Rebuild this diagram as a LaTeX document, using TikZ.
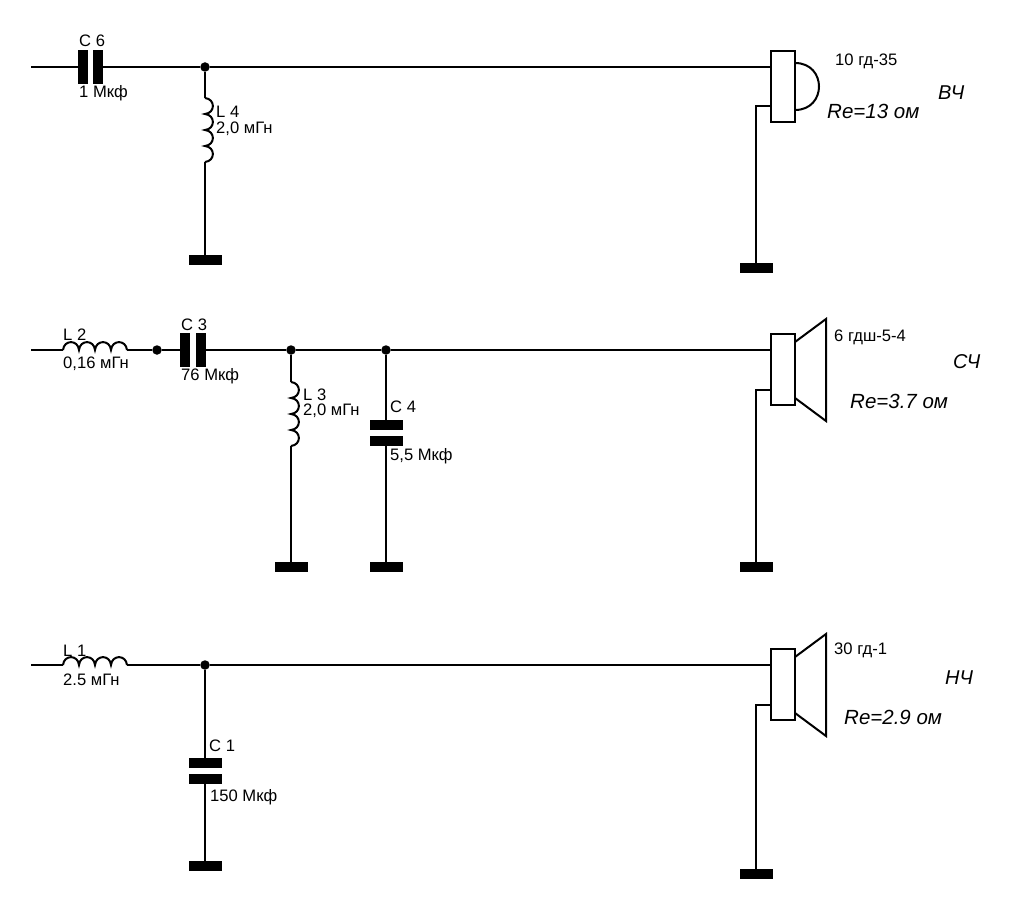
\documentclass[tikz,border=0pt]{standalone}
\usepackage{fontspec}
\setmainfont{Liberation Sans}
\tikzset{>=stealth,
  wire/.style={line width=2pt},
  plateV/.style={fill=black,inner sep=0pt,minimum width=10pt,minimum height=34pt},
  plateH/.style={fill=black,inner sep=0pt,minimum width=33pt,minimum height=10pt},
  gnd/.style={fill=black,inner sep=0pt,minimum width=33pt,minimum height=10pt},
  jdot/.style={circle,fill=black,inner sep=0pt,minimum size=9.5pt},
  spkbox/.style={draw,line width=2pt,inner sep=0pt,minimum width=24pt,minimum height=71pt},
  lbl/.style={anchor=west,inner sep=0pt,font=\fontsize{16.6}{17}\selectfont},
  bigl/.style={anchor=west,inner sep=0pt,font=\fontsize{20.5}{22}\itshape\selectfont},
  band/.style={anchor=west,inner sep=0pt,font=\fontsize{20}{22}\itshape\selectfont}}
\newcommand{\hcoil}[2]{\draw[wire] (#1) foreach \i in {1,...,4} {.. controls +(1,-10.5) and +(-1,-10.5) .. ++(16,0)} -- (#2);}
\newcommand{\vcoil}[2]{\draw[wire] (#1) foreach \i in {1,...,4} {.. controls +(10.5,1) and +(10.5,-1) .. ++(0,16)} -- (#2);}

\begin{document}
\begin{tikzpicture}[x=1pt,y=-1pt]
    \useasboundingbox (0,0) rectangle (1014,909);

    % upper branch
    \coordinate (in1) at (31,67);
    \node[plateV] (c6a) at (83,67) {};
    \node[plateV] (c6b) at (98,67) {};
    \node[jdot] (j1) at (205,67) {};
    \coordinate (l4a) at (205,98);
    \coordinate (l4b) at (205,162);
    \node[gnd] (g1) at (205,260) {};
    \node[spkbox] (sp1) at (783,86.5) {};
    \coordinate (sp1in) at (771,67);
    \coordinate (sp1out) at (771,106);
    \coordinate (sp1c) at (756,106);
    \node[gnd] (g2) at (756,268) {};
    \coordinate (dm1a) at (795,63);
    \coordinate (dm1b) at (795,110);
    \draw[wire] (in1) -- (c6a);
    \draw[wire] (c6b) -- (j1);
    \draw[wire] (j1) -- (sp1in);
    \draw[wire] (j1) -- (l4a);
    \vcoil{l4a}{l4b}
    \draw[wire] (l4b) -- (g1);
    \draw[wire] (sp1out) -- (sp1c) -- (g2);
    \draw[wire] (dm1a) .. controls +(32,0) and +(32,0) .. (dm1b);
    \node[lbl] (t1) at (79,41) {C 6};
    \node[lbl] (t2) at (79,93) {1 Мкф};
    \node[lbl] (t3) at (216,112) {L 4};
    \node[lbl] (t4) at (216,129) {2,0 мГн};
    \node[lbl] (t5) at (835,61) {10 гд-35};
    \node[bigl] (t6) at (827,111) {Re=13 ом};
    \node[band] (t7) at (938,93) {ВЧ};

    % middle branch
    \coordinate (in2) at (31,350);
    \coordinate (l2a) at (63,350);
    \coordinate (l2b) at (127,350);
    \node[jdot] (j2) at (157,350) {};
    \node[plateV] (c3a) at (185,350) {};
    \node[plateV] (c3b) at (201,350) {};
    \node[jdot] (j3) at (291,350) {};
    \node[jdot] (j4) at (386,350) {};
    \coordinate (l3a) at (291,382);
    \coordinate (l3b) at (291,446);
    \node[gnd] (g3) at (291,567) {};
    \node[plateH] (c4a) at (386,425) {};
    \node[plateH] (c4b) at (386,441) {};
    \node[gnd] (g4) at (386,567) {};
    \node[spkbox] (sp2) at (783,369.5) {};
    \coordinate (sp2in) at (771,350);
    \coordinate (sp2out) at (771,390);
    \coordinate (sp2c) at (756,390);
    \node[gnd] (g5) at (756,567) {};
    \draw[wire] (in2) -- (l2a);
    \hcoil{l2a}{l2b}
    \draw[wire] (l2b) -- (j2);
    \draw[wire] (j2) -- (c3a);
    \draw[wire] (c3b) -- (j3);
    \draw[wire] (j3) -- (j4);
    \draw[wire] (j4) -- (sp2in);
    \draw[wire] (j3) -- (l3a);
    \vcoil{l3a}{l3b}
    \draw[wire] (l3b) -- (g3);
    \draw[wire] (j4) -- (c4a);
    \draw[wire] (c4b) -- (g4);
    \draw[wire] (sp2out) -- (sp2c) -- (g5);
    \draw[wire] (795,342) -- (826,319) -- (826,421) -- (795,398);
    \node[lbl] (t8) at (63,335) {L 2};
    \node[lbl] (t9) at (63,364) {0,16 мГн};
    \node[lbl] (t10) at (181,325) {C 3};
    \node[lbl] (t11) at (181,376) {76 Мкф};
    \node[lbl] (t12) at (303,395) {L 3};
    \node[lbl] (t13) at (303,411) {2,0 мГн};
    \node[lbl] (t14) at (390,407) {C 4};
    \node[lbl] (t15) at (390,456) {5,5 Мкф};
    \node[lbl] (t16) at (834,337) {6 гдш-5-4};
    \node[bigl] (t17) at (850,401) {Re=3.7 ом};
    \node[band] (t18) at (953,362) {СЧ};

    % lower branch
    \coordinate (in3) at (31,665);
    \coordinate (l1a) at (63,665);
    \coordinate (l1b) at (127,665);
    \node[jdot] (j5) at (205,665) {};
    \node[plateH] (c1a) at (205,763) {};
    \node[plateH] (c1b) at (205,779) {};
    \node[gnd] (g6) at (205,866) {};
    \node[spkbox] (sp3) at (783,684.5) {};
    \coordinate (sp3in) at (771,665);
    \coordinate (sp3out) at (771,705);
    \coordinate (sp3c) at (756,705);
    \node[gnd] (g7) at (756,874) {};
    \draw[wire] (in3) -- (l1a);
    \hcoil{l1a}{l1b}
    \draw[wire] (l1b) -- (j5);
    \draw[wire] (j5) -- (sp3in);
    \draw[wire] (j5) -- (c1a);
    \draw[wire] (c1b) -- (g6);
    \draw[wire] (sp3out) -- (sp3c) -- (g7);
    \draw[wire] (795,657) -- (826,634) -- (826,736) -- (795,713);
    \node[lbl] (t19) at (63,651) {L 1};
    \node[lbl] (t20) at (63,680) {2.5 мГн};
    \node[lbl] (t21) at (209,746) {C 1};
    \node[lbl] (t22) at (210,797) {150 Мкф};
    \node[lbl] (t23) at (834,650) {30 гд-1};
    \node[bigl] (t24) at (844,717) {Re=2.9 ом};
    \node[band] (t25) at (945,678) {НЧ};
\end{tikzpicture}
\end{document}
